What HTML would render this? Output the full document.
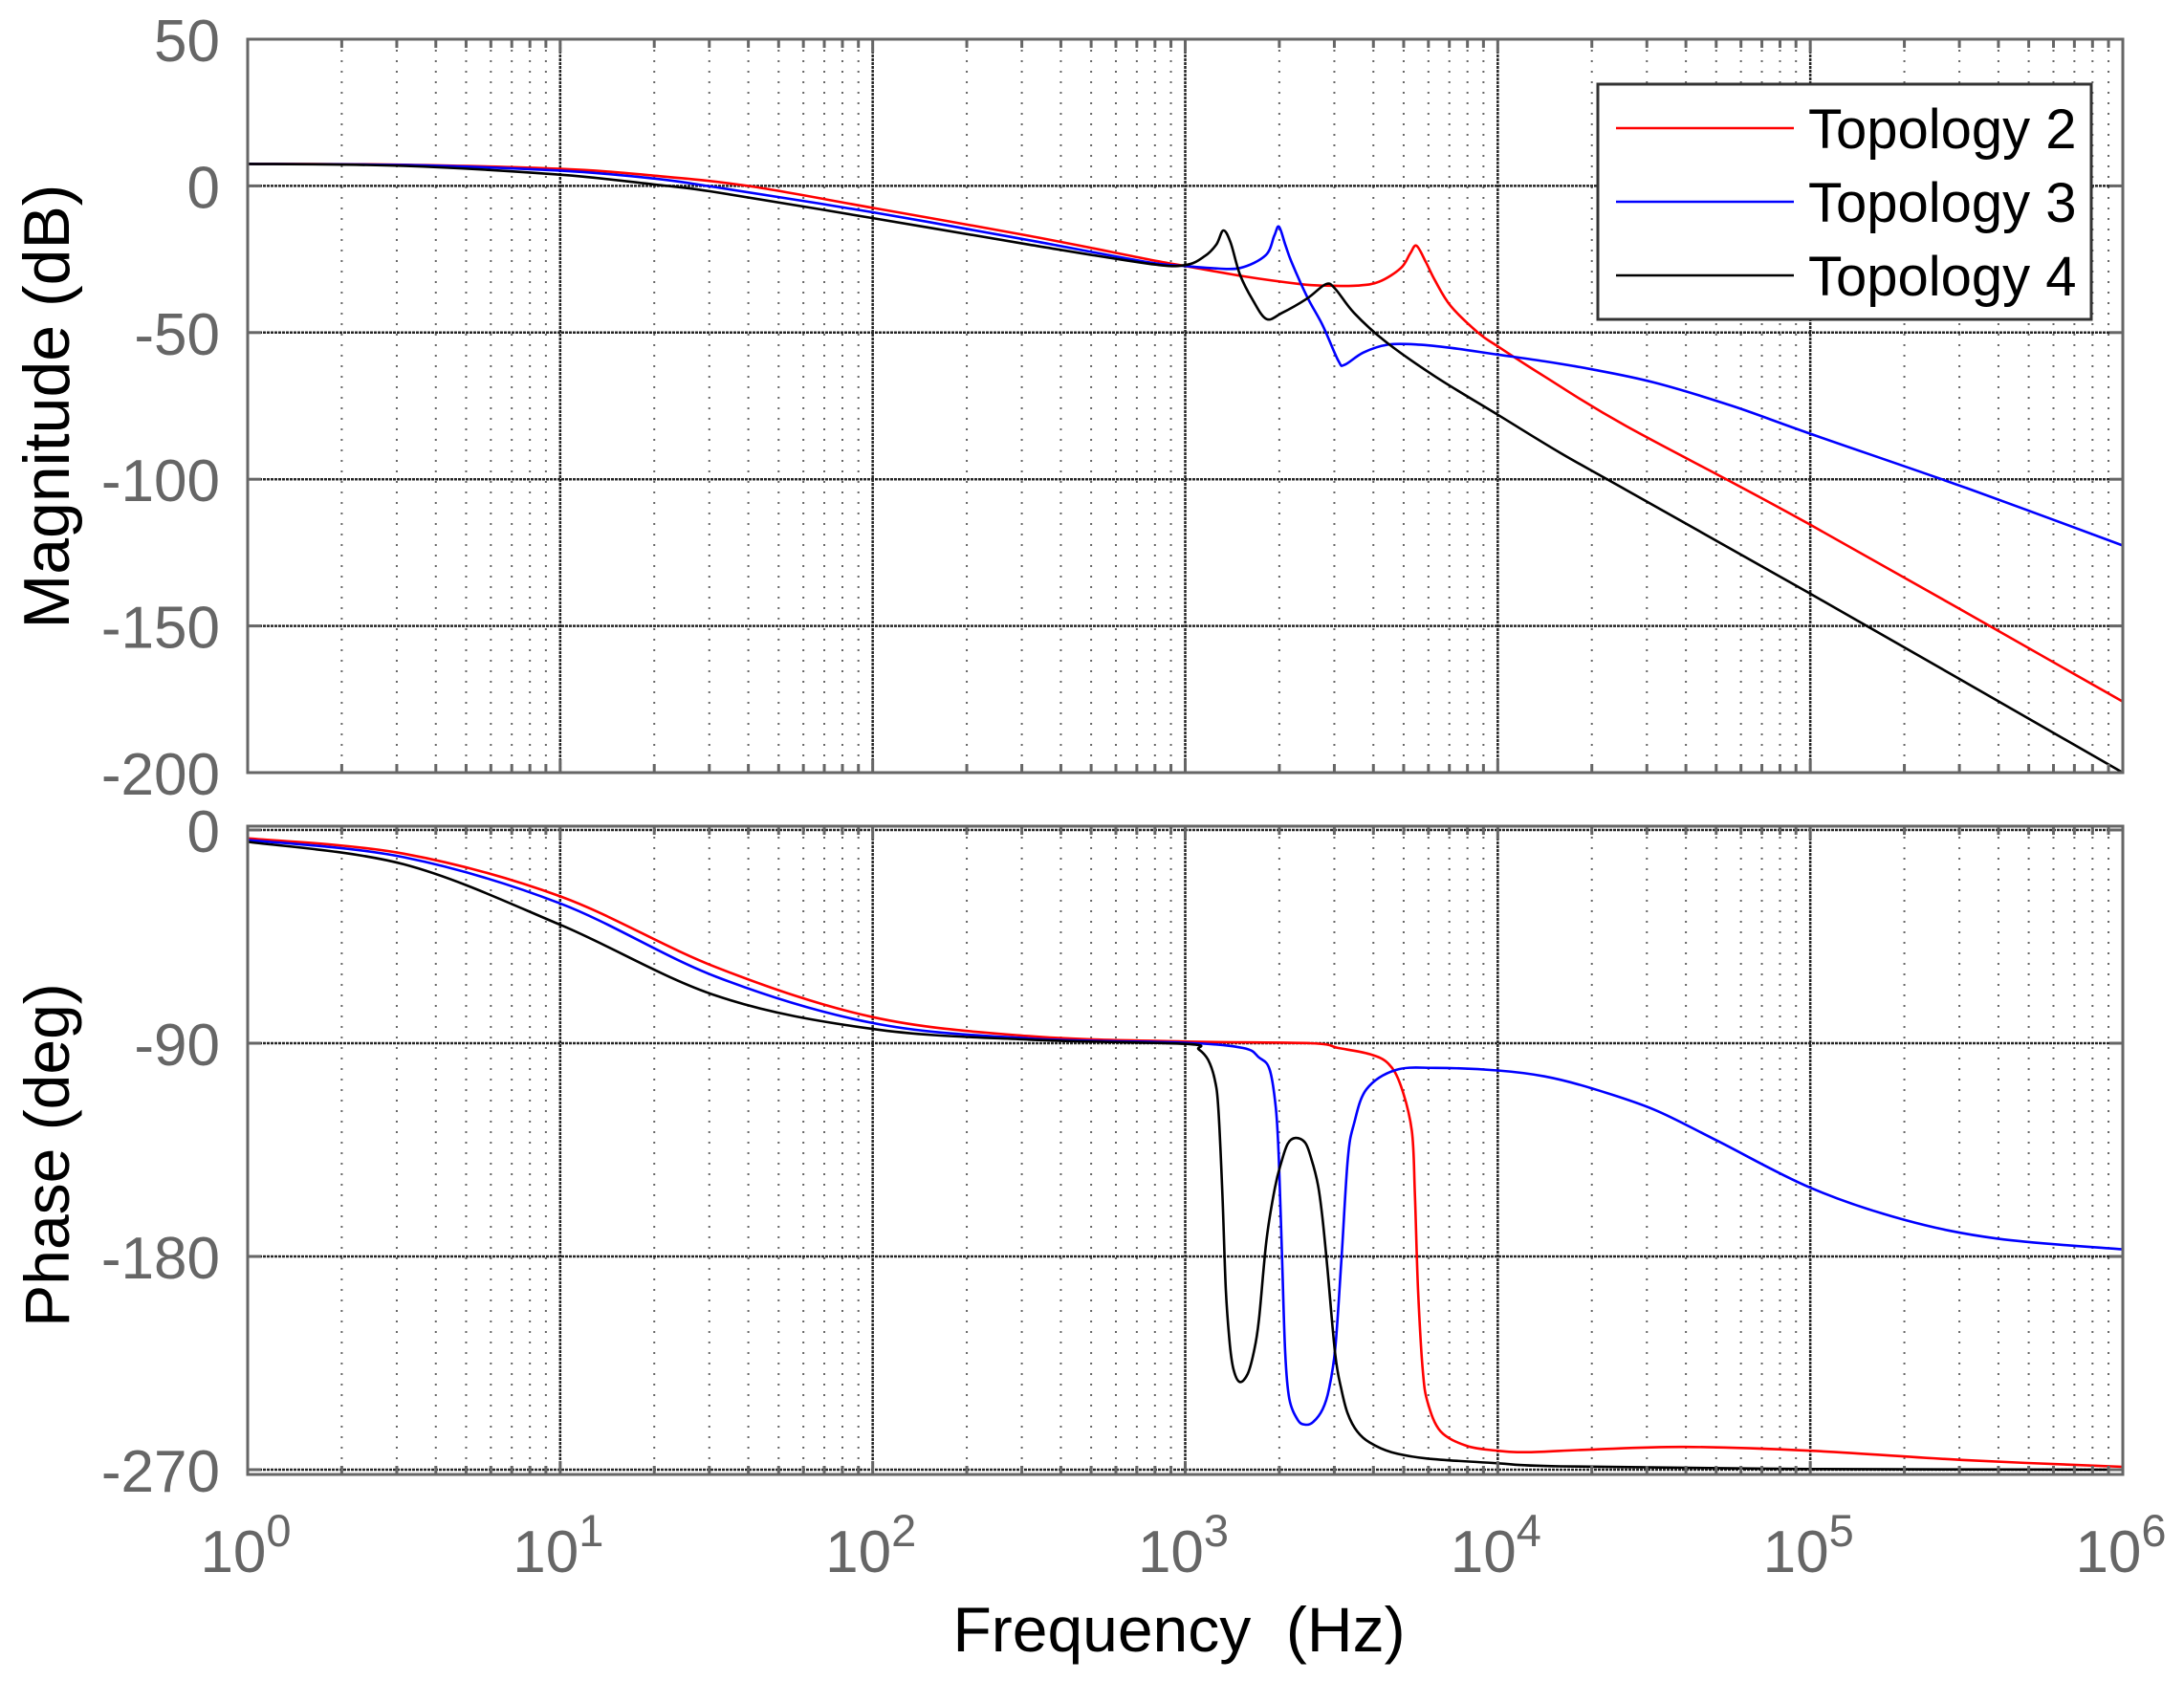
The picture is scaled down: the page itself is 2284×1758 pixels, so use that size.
<!DOCTYPE html>
<html><head><meta charset="utf-8"><style>
html,body{margin:0;padding:0;background:#fff;}
svg{display:block;}
</style></head><body>
<svg id="s" width="2284" height="1758" viewBox="0 0 2284 1758" xmlns="http://www.w3.org/2000/svg" font-family="Liberation Sans, Arial, sans-serif">
<rect width="2284" height="1758" fill="#fff"/>
<g id="grid"></g>
<g id="curves" fill="none" stroke-width="2.6" stroke-linejoin="round"></g>
<g id="axes"></g>
<g id="labels"></g>
<rect x="1671" y="88" width="516" height="246" fill="#fff" stroke="#333" stroke-width="3"/>
<line x1="1690" y1="134" x2="1876" y2="134" stroke="#ff0000" stroke-width="2.6"/>
<line x1="1690" y1="211" x2="1876" y2="211" stroke="#0000ff" stroke-width="2.6"/>
<line x1="1690" y1="288" x2="1876" y2="288" stroke="#000" stroke-width="2.6"/>
<text x="1891" y="155" font-size="58" fill="#000">Topology 2</text>
<text x="1891" y="232" font-size="58" fill="#000">Topology 3</text>
<text x="1891" y="309" font-size="58" fill="#000">Topology 4</text>
<text x="1233" y="1727" font-size="66" fill="#000" text-anchor="middle" xml:space="preserve">Frequency  (Hz)</text>
<text transform="translate(72,425) rotate(-90)" font-size="68" fill="#000" text-anchor="middle">Magnitude (dB)</text>
<text transform="translate(72,1208) rotate(-90)" font-size="66" fill="#000" text-anchor="middle">Phase (deg)</text>
</svg>
<script>
const NS="http://www.w3.org/2000/svg";
const L=259,R=2220,DEC=(R-L)/6;
const M={top:41,bot:808,y:v=>41+(50-v)*(767/250)};
const P={top:864,bot:1542,y:v=>868+(-v)*(669/270)};
function X(d){return L+d*DEC;}
function el(p,t,a,txt){const e=document.createElementNS(NS,t);for(const k in a)e.setAttribute(k,a[k]);if(txt!==undefined)e.textContent=txt;p.appendChild(e);return e;}
const G=document.getElementById('grid'),A=document.getElementById('axes'),T=document.getElementById('labels'),C=document.getElementById('curves');
function panel(pn,yt){
  for(let k=0;k<6;k++)for(let m=2;m<=9;m++){const x=X(k+Math.log10(m));
    el(G,'line',{x1:x,y1:pn.top,x2:x,y2:pn.bot,stroke:'#666','stroke-width':2,'stroke-dasharray':'2 9'});
    el(A,'line',{x1:x,y1:pn.top,x2:x,y2:pn.top+9,stroke:'#666','stroke-width':3});
    el(A,'line',{x1:x,y1:pn.bot,x2:x,y2:pn.bot-9,stroke:'#666','stroke-width':3});}
  for(let k=1;k<6;k++){const x=X(k);
    el(G,'line',{x1:x,y1:pn.top,x2:x,y2:pn.bot,stroke:'#262626','stroke-width':2.5,'stroke-dasharray':'3 1'});
    el(A,'line',{x1:x,y1:pn.top,x2:x,y2:pn.top+14,stroke:'#666','stroke-width':3});
    el(A,'line',{x1:x,y1:pn.bot,x2:x,y2:pn.bot-14,stroke:'#666','stroke-width':3});}
  for(const v of yt){const y=pn.y(v);
    if(y>pn.top+2&&y<pn.bot-2)el(G,'line',{x1:L,y1:y,x2:R,y2:y,stroke:'#262626','stroke-width':2.5,'stroke-dasharray':'3 1'});
    el(A,'line',{x1:L,y1:y,x2:L+14,y2:y,stroke:'#666','stroke-width':3});
    el(A,'line',{x1:R,y1:y,x2:R-14,y2:y,stroke:'#666','stroke-width':3});
    el(T,'text',{x:230,y:y+23,'font-size':62,fill:'#666','text-anchor':'end'},String(v));}
  el(A,'rect',{x:L,y:pn.top,width:R-L,height:pn.bot-pn.top,fill:'none',stroke:'#666','stroke-width':3});
}
panel(M,[50,0,-50,-100,-150,-200]);
panel(P,[0,-90,-180,-270]);
for(let k=0;k<=6;k++){const t=el(T,'text',{x:X(k)-2,y:1644,'font-size':62,fill:'#666','text-anchor':'middle'});
  const a=document.createElementNS(NS,'tspan');a.textContent='10';t.appendChild(a);
  const b=document.createElementNS(NS,'tspan');b.setAttribute('dy','-27');b.setAttribute('font-size','47');b.textContent=String(k);t.appendChild(b);}
const magR=[[0,7.5],[0.5,7.2],[1,5.8],[1.3,3.5],[1.6,0],[2,-7.5],[2.5,-17],[2.88,-25],[3,-27.3],[3.185,-30.8],[3.37,-33.5],[3.45,-34],[3.55,-34],[3.62,-32.7],[3.69,-28],[3.72,-23],[3.74,-20.4],[3.77,-26],[3.8,-32.4],[3.85,-41],[3.94,-50.3],[4,-54.7],[4.15,-65],[4.41,-81.8],[5,-115.5],[6,-175.8]];
const magB=[[0,7.5],[0.5,7.1],[1,5.2],[1.3,2.5],[1.5,-0.5],[2,-9],[2.5,-18.5],[2.88,-26],[3,-27.3],[3.08,-28],[3.175,-28],[3.257,-23.7],[3.285,-17],[3.30,-13.9],[3.32,-20],[3.34,-25.9],[3.39,-37.8],[3.44,-47.6],[3.49,-59.6],[3.51,-61],[3.57,-56.8],[3.65,-54.1],[3.745,-54.1],[3.85,-55.2],[4,-57.5],[4.15,-59.8],[4.3,-62.5],[4.5,-67],[4.75,-75],[5,-84.5],[5.5,-103],[6,-122.6]];
const magK=[[0,7.5],[0.5,6.8],[1,3.8],[1.3,0.5],[1.5,-2.2],[2,-11],[2.5,-20],[2.88,-26.5],[3,-27],[3.063,-23.9],[3.1,-19.9],[3.122,-15.2],[3.145,-19.3],[3.175,-30.2],[3.216,-38.9],[3.26,-45.4],[3.31,-43.3],[3.39,-38.4],[3.45,-33.5],[3.48,-35.1],[3.54,-43.3],[3.64,-53],[3.8,-65],[4,-78],[4.2,-91],[4.41,-103.6],[5,-139],[6,-200]];
const phR=[[0,-3.5],[0.5,-10],[1,-28],[1.5,-58],[2,-79],[2.5,-87],[3,-89.3],[3.4,-90],[3.49,-92],[3.59,-94.6],[3.65,-98.6],[3.69,-108],[3.725,-127],[3.735,-154],[3.745,-194.4],[3.76,-228],[3.776,-241.7],[3.817,-253.8],[3.9,-259.9],[4,-262],[4.1,-262.6],[4.3,-261.5],[4.6,-260.4],[5,-262],[5.5,-266],[6,-268.8]];
const phB=[[0,-4.2],[0.5,-11.5],[1,-31],[1.5,-62],[2,-81.5],[2.5,-88],[3,-89.8],[3.185,-92],[3.236,-96],[3.27,-101],[3.29,-117.5],[3.30,-140],[3.31,-181],[3.32,-221],[3.333,-240],[3.36,-249],[3.384,-251],[3.41,-249.8],[3.44,-244.4],[3.46,-236],[3.48,-218.7],[3.5,-181],[3.52,-139],[3.54,-124],[3.58,-109.4],[3.674,-101.3],[3.8,-100.4],[4,-101.5],[4.15,-104],[4.3,-109],[4.5,-118],[4.7,-131],[5,-151],[5.3,-164.5],[5.6,-172.5],[6,-177]];
const phK=[[0,-5],[0.5,-14.5],[1,-40],[1.5,-70],[2,-84],[2.5,-88.5],[3,-90.3],[3.043,-92.6],[3.073,-97],[3.094,-105],[3.106,-117.5],[3.119,-154],[3.13,-194.4],[3.143,-217.4],[3.155,-228],[3.175,-233],[3.2,-229.5],[3.22,-220],[3.236,-206.6],[3.26,-173],[3.287,-151],[3.307,-140.5],[3.328,-132.4],[3.353,-130],[3.384,-132],[3.404,-139],[3.425,-150],[3.44,-164.8],[3.455,-185],[3.48,-221.4],[3.5,-236.3],[3.52,-246.4],[3.55,-253.8],[3.59,-258.5],[3.66,-262.6],[3.776,-265.3],[4,-267.3],[4.2,-268.6],[5,-269.7],[6,-270]];
function path(pts,pn,col){
  const p=pts.map(([d,v])=>[X(d),pn.y(v)]);
  let s='M'+p[0][0].toFixed(1)+','+p[0][1].toFixed(1);
  for(let i=0;i<p.length-1;i++){const p0=p[Math.max(0,i-1)],p1=p[i],p2=p[i+1],p3=p[Math.min(p.length-1,i+2)];
    const c1=[p1[0]+(p2[0]-p0[0])/6,p1[1]+(p2[1]-p0[1])/6],c2=[p2[0]-(p3[0]-p1[0])/6,p2[1]-(p3[1]-p1[1])/6];
    s+=' C'+c1[0].toFixed(1)+','+c1[1].toFixed(1)+' '+c2[0].toFixed(1)+','+c2[1].toFixed(1)+' '+p2[0].toFixed(1)+','+p2[1].toFixed(1);}
  el(C,'path',{d:s,stroke:col});
}
path(magR,M,'#ff0000');path(magB,M,'#0000ff');path(magK,M,'#000');
path(phR,P,'#ff0000');path(phB,P,'#0000ff');path(phK,P,'#000');
</script>
</body></html>
